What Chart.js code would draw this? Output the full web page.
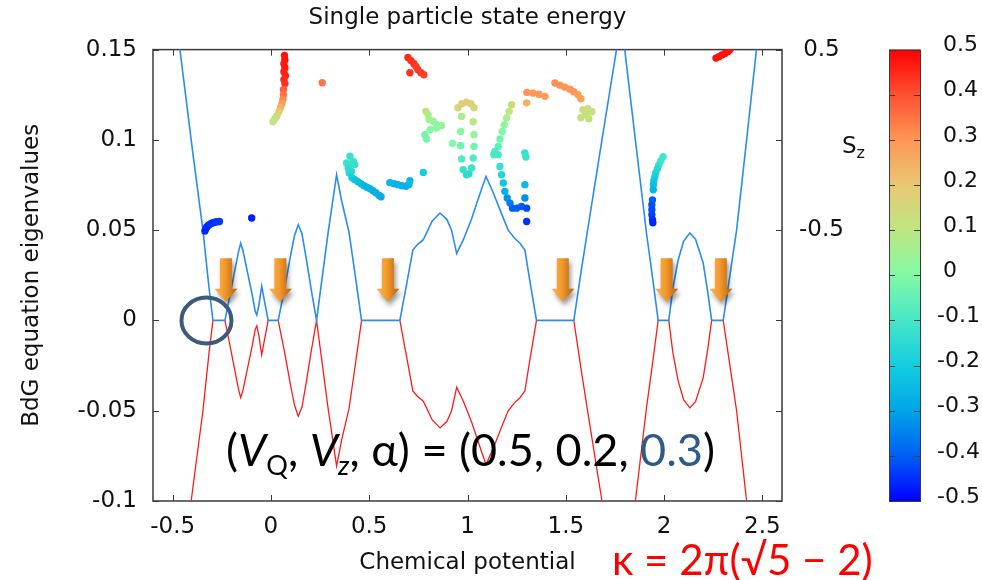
<!DOCTYPE html>
<html>
<head>
<meta charset="utf-8">
<title>Single particle state energy</title>
<script src="https://cdn.jsdelivr.net/npm/chart.js@4.4.1/dist/chart.umd.min.js"></script>
<style>
  html, body { margin: 0; padding: 0; background: #fff; }
  #wrap { width: 982px; height: 580px; }
</style>
</head>
<body>
<div id="wrap"><canvas id="bdgChart" width="982" height="580"></canvas></div>
<script>
// lowest BdG eigenvalue vs chemical potential (+E branch and its -E partner)
const muGrid = [-0.56, -0.463, -0.40, -0.346, -0.315, -0.295, -0.234, -0.21, -0.185, -0.165,
  -0.154, -0.143, -0.12, -0.095, -0.08, -0.072, -0.062, -0.047, -0.035, -0.014,
  0.037, 0.07, 0.10, 0.12, 0.139, 0.158, 0.18, 0.205, 0.232, 0.29,
  0.334, 0.36, 0.397, 0.43, 0.461, 0.656, 0.69, 0.722, 0.745, 0.775,
  0.82, 0.86, 0.895, 0.919, 0.945, 0.98, 1.02, 1.06, 1.094, 1.13,
  1.17, 1.207, 1.24, 1.267, 1.292, 1.32, 1.351, 1.541, 1.575, 1.608,
  1.684, 1.758, 1.781, 1.80, 1.854, 1.911, 1.94, 1.97, 2.024, 2.045,
  2.072, 2.10, 2.131, 2.16, 2.199, 2.222, 2.242, 2.301, 2.335, 2.369,
  2.42, 2.47, 2.56];
const ePos = [0.20, 0.150, 0.095, 0.050, 0.018, 0, 0, 0.013, 0.027, 0.038,
  0.0428, 0.039, 0.027, 0.014, 0.005, 0.003, 0.008, 0.019, 0.012, 0,
  0, 0.018, 0.036, 0.047, 0.053, 0.048, 0.034, 0.017, 0, 0.048,
  0.0807, 0.066, 0.049, 0.024, 0, 0, 0.020, 0.039, 0.042, 0.0447,
  0.055, 0.0595, 0.056, 0.050, 0.037, 0.045, 0.056, 0.069, 0.0798, 0.071,
  0.060, 0.050, 0.0455, 0.0428, 0.039, 0.020, 0, 0, 0.025, 0.048,
  0.100, 0.150, 0.164, 0.150, 0.100, 0.048, 0.025, 0, 0, 0.018,
  0.0336, 0.044, 0.0484, 0.045, 0.0318, 0.016, 0, 0, 0.025, 0.050,
  0.100, 0.150, 0.23];
const eNeg = [-0.20, -0.150, -0.095, -0.050, -0.018, 0, 0, -0.013, -0.027, -0.038,
  -0.0428, -0.039, -0.027, -0.014, -0.005, -0.003, -0.008, -0.019, -0.012, 0,
  0, -0.018, -0.036, -0.047, -0.053, -0.048, -0.034, -0.017, 0, -0.048,
  -0.0807, -0.066, -0.049, -0.024, 0, 0, -0.020, -0.039, -0.042, -0.0447,
  -0.055, -0.0595, -0.056, -0.050, -0.037, -0.045, -0.056, -0.069, -0.0798, -0.071,
  -0.060, -0.050, -0.0455, -0.0428, -0.039, -0.020, 0, 0, -0.025, -0.048,
  -0.100, -0.150, -0.164, -0.150, -0.100, -0.048, -0.025, 0, 0, -0.018,
  -0.0336, -0.044, -0.0484, -0.045, -0.0318, -0.016, 0, 0, -0.025, -0.050,
  -0.100, -0.150, -0.23];

// single particle states: chemical potential, energy, spin Sz
const spinMu = [-0.336, -0.331, -0.325, -0.318, -0.310, -0.302, -0.294, -0.286, -0.278, -0.270, -0.262, -0.098,
  0.0687, 0.0712, 0.0661, 0.0712, 0.0661, 0.0738, 0.0661, 0.0712, 0.0636, 0.0636, 0.0610, 0.0560, 0.0483, 0.0407, 0.0305, 0.0203, 0.0102, 0.261,
  0.697, 0.712, 0.727, 0.738, 0.748, 0.763, 0.778, 0.707,
  0.402, 0.385, 0.419, 0.402, 0.427, 0.393, 0.410, 0.398,
  0.412, 0.427, 0.443, 0.458, 0.473, 0.488, 0.504, 0.519, 0.534, 0.549, 0.560,
  0.605, 0.626, 0.646, 0.666, 0.687, 0.702, 0.707, 0.775,
  0.788, 0.800, 0.805, 0.826, 0.846, 0.868, 0.843, 0.810, 0.783, 0.792,
  0.951, 0.971, 0.995, 1.017, 1.033, 0.970, 0.965, 0.965, 0.970, 0.978, 0.995, 1.007, 1.021, 1.029, 1.033, 1.033, 1.029, 0.924,
  1.224, 1.212, 1.199, 1.187, 1.177, 1.165, 1.156, 1.139, 1.156, 1.134, 1.165, 1.173, 1.182, 1.190, 1.202, 1.216, 1.229, 1.250, 1.275, 1.301, 1.301,
  1.292, 1.297, 1.292, 1.292, 1.301,
  1.302, 1.333, 1.363, 1.394,
  1.445, 1.470, 1.495, 1.521, 1.541, 1.562, 1.577,
  1.587, 1.612, 1.633, 1.602, 1.577, 1.617,
  1.995, 1.984, 1.974, 1.966, 1.958, 1.953, 1.948, 1.946, 1.945,
  1.941, 1.938, 1.938, 1.938, 1.941, 1.943,
  2.264, 2.279, 2.294, 2.310, 2.325, 2.335];
const spinE = [0.0495, 0.0508, 0.0519, 0.0527, 0.0533, 0.0538, 0.0541, 0.0544, 0.0546, 0.0547, 0.0548, 0.0567,
  0.1467, 0.1444, 0.1422, 0.1400, 0.1378, 0.1356, 0.1334, 0.1312, 0.1278, 0.1250, 0.1223, 0.1200, 0.1178, 0.1156, 0.1134, 0.1117, 0.1101, 0.1316,
  0.1456, 0.1439, 0.1422, 0.1406, 0.1389, 0.1372, 0.1361, 0.1372,
  0.0909, 0.0872, 0.0881, 0.0863, 0.0863, 0.0844, 0.0825, 0.0817,
  0.0790, 0.0779, 0.0768, 0.0757, 0.0746, 0.0738, 0.0729, 0.0718, 0.0707, 0.0693, 0.0685,
  0.0763, 0.0757, 0.0752, 0.0746, 0.0743, 0.0752, 0.0774, 0.0820,
  0.1158, 0.1140, 0.1112, 0.1103, 0.1084, 0.1079, 0.1066, 0.1057, 0.1029, 0.1005,
  0.1178, 0.1200, 0.1209, 0.1200, 0.1178, 0.1130, 0.1047, 0.0968, 0.0894, 0.0835, 0.0807, 0.0812, 0.0844, 0.0900, 0.0964, 0.1029, 0.1100, 0.0980,
  0.1195, 0.1158, 0.1121, 0.1084, 0.1047, 0.1005, 0.0964, 0.0936, 0.0918, 0.0918, 0.0853, 0.0807, 0.0761, 0.0715, 0.0678, 0.0650, 0.0622, 0.0622, 0.0631, 0.0622, 0.0548,
  0.0927, 0.0905, 0.0752, 0.0678, 0.1205,
  0.1263, 0.1259, 0.1253, 0.1241,
  0.1315, 0.1303, 0.1292, 0.1281, 0.1267, 0.1250, 0.1228,
  0.1167, 0.1173, 0.1156, 0.1140, 0.1123, 0.1117,
  0.0907, 0.0885, 0.0863, 0.0840, 0.0818, 0.0796, 0.0774, 0.0752, 0.0724,
  0.0668, 0.0641, 0.0613, 0.0585, 0.0558, 0.0541,
  0.1453, 0.1461, 0.1470, 0.1478, 0.1489, 0.1500];
const spinSz = [-0.46, -0.46, -0.46, -0.46, -0.45, -0.45, -0.45, -0.45, -0.44, -0.44, -0.44, -0.47,
  0.48, 0.48, 0.47, 0.47, 0.46, 0.46, 0.45, 0.44, 0.38, 0.35, 0.32, 0.28, 0.24, 0.20, 0.16, 0.12, 0.10, 0.35,
  0.45, 0.44, 0.44, 0.43, 0.43, 0.43, 0.42, 0.44,
  -0.12, -0.12, -0.12, -0.13, -0.13, -0.14, -0.15, -0.16,
  -0.20, -0.22, -0.23, -0.24, -0.25, -0.26, -0.26, -0.27, -0.27, -0.28, -0.28,
  -0.26, -0.27, -0.27, -0.27, -0.27, -0.26, -0.25, -0.20,
  0.12, 0.08, 0.05, 0.04, 0.03, 0.03, 0.02, 0.00, -0.02, -0.03,
  0.15, 0.18, 0.20, 0.18, 0.15, 0.08, 0.02, -0.03, -0.08, -0.13, -0.15, -0.15, -0.12, -0.08, -0.03, 0.02, 0.08, 0.00,
  0.15, 0.10, 0.06, 0.03, 0.00, -0.03, -0.06, -0.08, -0.09, -0.09, -0.13, -0.17, -0.22, -0.27, -0.32, -0.36, -0.40, -0.40, -0.40, -0.42, -0.45,
  -0.12, -0.12, -0.25, -0.33, 0.25,
  0.30, 0.30, 0.30, 0.29,
  0.31, 0.31, 0.30, 0.30, 0.30, 0.29, 0.28,
  0.13, 0.13, 0.12, 0.12, 0.12, 0.12,
  -0.10, -0.11, -0.13, -0.15, -0.17, -0.19, -0.21, -0.23, -0.26,
  -0.40, -0.41, -0.42, -0.43, -0.45, -0.46,
  0.48, 0.48, 0.48, 0.48, 0.48, 0.48];

// axis ticks
const xTicks = [-0.5, 0, 0.5, 1, 1.5, 2, 2.5];
const yTicks = [-0.1, -0.05, 0, 0.05, 0.1, 0.15];
const y2Ticks = [0.5, -0.5];
const szTicks = [0.5, 0.4, 0.3, 0.2, 0.1, 0, -0.1, -0.2, -0.3, -0.4, -0.5];

// Sz colour palette
const szStops = [-0.5, -0.4, -0.3, -0.2, -0.1, 0, 0.1, 0.2, 0.3, 0.4, 0.5];
const szRgb = [[0, 0, 255], [0, 95, 245], [0, 165, 232], [20, 205, 222], [70, 230, 200],
  [130, 250, 165], [190, 230, 130], [232, 200, 115], [255, 150, 85], [255, 80, 50], [255, 0, 0]];

// zero-energy plateaus marked with arrows
const arrowMu = [-0.229, 0.048, 0.595, 1.485, 2.013, 2.289];

const FONT = "'DejaVu Sans', Verdana, sans-serif";
const SLIDE_FONT = "Lato, 'Open Sans', sans-serif";

function szColor(s) {
  s = Math.max(-0.5, Math.min(0.5, s));
  let i = 0;
  while (i < szStops.length - 2 && s > szStops[i + 1]) i++;
  const t = (s - szStops[i]) / (szStops[i + 1] - szStops[i]);
  const a = szRgb[i], b = szRgb[i + 1];
  const c = a.map((v, k) => Math.round(v + (b[k] - v) * t));
  return `rgb(${c[0]},${c[1]},${c[2]})`;
}

function drawArrow(ctx, cx, y0, y1) {
  const sw = 6, hw = 11.5, hh = 13;
  ctx.save();
  ctx.shadowColor = "rgba(0,0,0,0.4)";
  ctx.shadowBlur = 5;
  ctx.shadowOffsetX = 2;
  ctx.shadowOffsetY = 4;
  const g = ctx.createLinearGradient(cx - hw, 0, cx + hw, 0);
  g.addColorStop(0, "#f6b556");
  g.addColorStop(0.45, "#f39a2c");
  g.addColorStop(1, "#b75e10");
  ctx.fillStyle = g;
  ctx.beginPath();
  ctx.moveTo(cx - sw, y0);
  ctx.lineTo(cx + sw, y0);
  ctx.lineTo(cx + sw, y1 - hh);
  ctx.lineTo(cx + hw, y1 - hh);
  ctx.lineTo(cx, y1);
  ctx.lineTo(cx - hw, y1 - hh);
  ctx.lineTo(cx - sw, y1 - hh);
  ctx.closePath();
  ctx.fill();
  ctx.restore();
}

// text made of runs with their own font, colour and vertical shift
function drawRuns(ctx, runs, x, y) {
  ctx.save();
  ctx.textBaseline = "alphabetic";
  ctx.textAlign = "left";
  runs.forEach(r => {
    ctx.font = r.font;
    ctx.fillStyle = r.color || "#000";
    ctx.fillText(r.t, x, y + (r.dy || 0));
    x += ctx.measureText(r.t).width;
  });
  ctx.restore();
}

const decor = {
  id: "decor",
  beforeDatasetsDraw(chart) {
    const { ctx, chartArea: a, scales } = chart;
    ctx.save();
    ctx.strokeStyle = "#3a3a3a";
    ctx.lineWidth = 1;
    ctx.beginPath();
    xTicks.forEach(v => {
      const px = Math.round(scales.x.getPixelForValue(v)) + 0.5;
      ctx.moveTo(px, a.bottom); ctx.lineTo(px, a.bottom - 6);
      ctx.moveTo(px, a.top); ctx.lineTo(px, a.top + 6);
    });
    yTicks.forEach(v => {
      const py = Math.round(scales.y.getPixelForValue(v)) + 0.5;
      ctx.moveTo(a.left, py); ctx.lineTo(a.left + 6, py);
      ctx.moveTo(a.right, py); ctx.lineTo(a.right - 6, py);
    });
    ctx.stroke();
    ctx.lineWidth = 1.5;
    ctx.strokeRect(a.left, a.top, a.right - a.left, a.bottom - a.top);
    ctx.restore();
  },
  afterDatasetsDraw(chart) {
    const { ctx, scales } = chart;
    const top = scales.y.getPixelForValue(0.0345);
    const tip = scales.y.getPixelForValue(0.0103);
    arrowMu.forEach(m => drawArrow(ctx, scales.x.getPixelForValue(m), top, tip));

    // ring around the first plateau
    ctx.save();
    ctx.strokeStyle = "#3d5a7d";
    ctx.lineWidth = 4;
    ctx.beginPath();
    ctx.ellipse(scales.x.getPixelForValue(-0.328), scales.y.getPixelForValue(0), 25, 23, 0, 0, Math.PI * 2);
    ctx.stroke();
    ctx.restore();

    const big = "45px " + SLIDE_FONT;
    const bigI = "italic 45px " + SLIDE_FONT;
    const sub = "27px " + SLIDE_FONT;
    const subI = "italic 27px " + SLIDE_FONT;
    drawRuns(ctx, [
      { t: "(", font: big }, { t: "V", font: bigI }, { t: "Q", font: sub, dy: 9 },
      { t: ", ", font: big }, { t: "V", font: bigI }, { t: "z", font: subI, dy: 9 },
      { t: ", α) = (0.5, 0.2, ", font: big },
      { t: "0.3", font: big, color: "#2e5a8a" },
      { t: ")", font: big }
    ], 226, 466);
  },
  afterDraw(chart) {
    const { ctx, chartArea: a } = chart;
    const x0 = a.right + 107, w = 31;
    const h = a.bottom - a.top;
    const yOf = v => a.top + (0.5 - v) * h;

    ctx.save();
    const g = ctx.createLinearGradient(0, a.top, 0, a.bottom);
    szStops.forEach(s => g.addColorStop(0.5 - s, szColor(s)));
    ctx.fillStyle = g;
    ctx.fillRect(x0, a.top, w, h);
    ctx.strokeStyle = "#3a3a3a";
    ctx.lineWidth = 1;
    ctx.strokeRect(x0 + 0.5, a.top + 0.5, w, h);
    ctx.beginPath();
    szTicks.forEach(v => {
      const py = Math.round(yOf(v)) + 0.5;
      ctx.moveTo(x0, py); ctx.lineTo(x0 + 6, py);
      ctx.moveTo(x0 + w, py); ctx.lineTo(x0 + w - 6, py);
    });
    ctx.stroke();

    ctx.fillStyle = "#111";
    ctx.font = "22px " + FONT;
    ctx.textAlign = "left";
    ctx.textBaseline = "middle";
    szTicks.forEach(v => ctx.fillText(String(v), x0 + (v < 0 ? 48 : 54), yOf(v) - 4));
    ctx.restore();

    drawRuns(ctx, [
      { t: "S", font: "23px " + FONT, color: "#111" },
      { t: "z", font: "16px " + FONT, color: "#111", dy: 5 }
    ], a.right + 60, 153);

    drawRuns(ctx, [
      { t: "κ = 2π(√5 − 2)", font: "42px " + SLIDE_FONT, color: "#ff0000" }
    ], 612, 575);
  }
};

const tickFont = { family: FONT, size: 23 };

new Chart(document.getElementById("bdgChart"), {
  type: "scatter",
  data: {
    datasets: [
      {
        label: "Sz",
        data: spinMu.map((m, i) => ({ x: m, y: spinE[i] })),
        pointRadius: 3.7,
        pointBorderWidth: 0,
        pointBackgroundColor: c => szColor(spinSz[c.dataIndex]),
        order: 0
      },
      {
        label: "+E",
        data: muGrid.map((m, i) => ({ x: m, y: ePos[i] })),
        showLine: true,
        borderColor: "#2a8cf0",
        borderWidth: 1.6,
        pointRadius: 0,
        order: 1
      },
      {
        label: "-E",
        data: muGrid.map((m, i) => ({ x: m, y: eNeg[i] })),
        showLine: true,
        borderColor: "#ff1a1a",
        borderWidth: 1.3,
        pointRadius: 0,
        order: 2
      }
    ]
  },
  options: {
    responsive: false,
    devicePixelRatio: 1,
    animation: false,
    events: [],
    layout: { padding: 0 },
    plugins: {
      legend: { display: false },
      tooltip: { enabled: false },
      title: {
        display: true,
        text: "Single particle state energy",
        fullSize: false,
        color: "#111",
        font: { family: FONT, size: 23, weight: "normal", lineHeight: 1.2 },
        padding: { top: 4, bottom: 18 }
      }
    },
    scales: {
      x: {
        type: "linear",
        position: "bottom",
        min: -0.6,
        max: 2.6,
        grid: { display: false, drawTicks: false },
        border: { display: false },
        afterBuildTicks: s => { s.ticks = xTicks.map(v => ({ value: v })); },
        afterFit: s => { s.height = 79; },
        ticks: { font: tickFont, color: "#111", padding: 12, maxRotation: 0, autoSkip: false, callback: v => String(v) },
        title: { display: true, text: "Chemical potential", color: "#111", font: { family: FONT, size: 23 }, padding: { top: 0, bottom: 3 } }
      },
      y: {
        type: "linear",
        position: "left",
        min: -0.1,
        max: 0.15,
        grid: { display: false, drawTicks: false },
        border: { display: false },
        afterBuildTicks: s => { s.ticks = yTicks.map(v => ({ value: v })); },
        afterFit: s => { s.width = 153; },
        ticks: { font: tickFont, color: "#111", padding: 16, callback: v => String(v) },
        title: { display: true, text: "BdG equation eigenvalues", color: "#111", font: { family: FONT, size: 23 }, padding: { top: 18, bottom: 0 } }
      },
      y2: {
        type: "linear",
        position: "right",
        min: -2,
        max: 0.5,
        grid: { display: false, drawTicks: false },
        border: { display: false },
        afterBuildTicks: s => { s.ticks = y2Ticks.map(v => ({ value: v })); },
        afterFit: s => { s.width = 200; },
        ticks: { font: tickFont, color: "#111", padding: 17, crossAlign: "center", callback: v => String(v) }
      }
    }
  },
  plugins: [decor]
});
</script>
</body>
</html>
